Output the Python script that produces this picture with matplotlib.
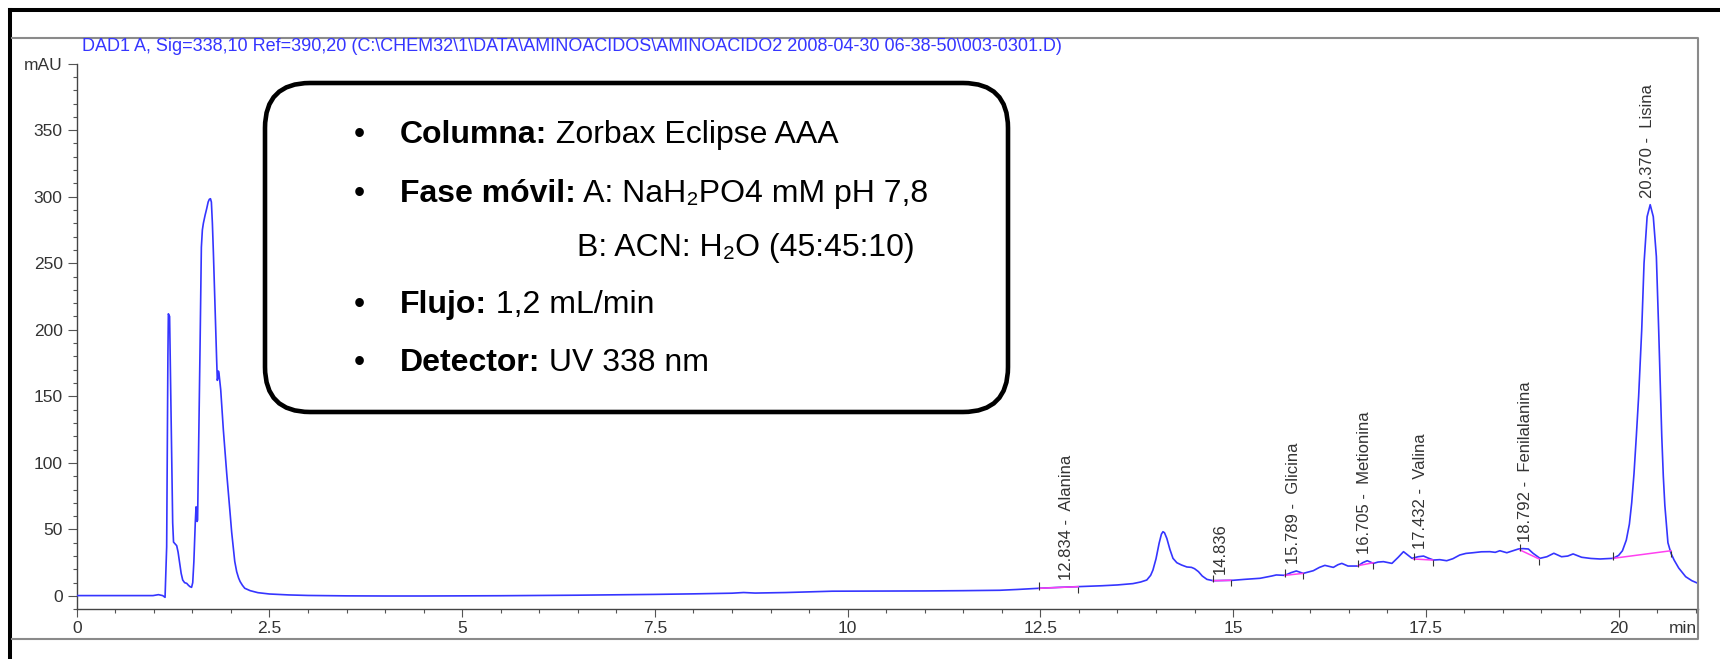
import matplotlib
matplotlib.use("Agg")
import matplotlib.pyplot as plt
from matplotlib.patches import FancyBboxPatch
from matplotlib.ticker import MultipleLocator

plt.rcParams["font.family"] = ["Liberation Sans", "DejaVu Sans"]

tiempo = [
    0.00, 0.50, 0.99, 1.06, 1.115, 1.146, 1.167, 1.183, 1.189, 1.205,
    1.22, 1.232, 1.245, 1.256, 1.297, 1.315, 1.332, 1.355, 1.375, 1.40,
    1.427, 1.45, 1.47, 1.49, 1.505, 1.52, 1.538, 1.548, 1.556, 1.562,
    1.568, 1.582, 1.60, 1.617, 1.63, 1.643, 1.665, 1.686, 1.705, 1.72,
    1.735, 1.747, 1.76, 1.773, 1.79, 1.803, 1.815, 1.824, 1.832, 1.838,
    1.846, 1.868, 1.885, 1.902, 1.925, 1.946, 1.97, 1.99, 2.01, 2.03,
    2.05, 2.075, 2.10, 2.12, 2.15, 2.18, 2.25, 2.35, 2.5, 2.75,
    3.0, 3.5, 4.0, 4.5, 5.0, 5.5, 6.0, 6.5, 7.0, 7.5,
    8.0, 8.5, 8.65, 8.8, 9.2, 9.6, 9.8, 10.5, 11.0, 11.5,
    11.975, 12.2, 12.485, 12.75, 12.99, 13.3, 13.5, 13.70, 13.80, 13.88,
    13.93, 13.96, 14.00, 14.04, 14.07, 14.09, 14.11, 14.14, 14.18, 14.22,
    14.27, 14.33, 14.40, 14.46, 14.50, 14.55, 14.60, 14.66, 14.74, 14.85,
    15.00, 15.15, 15.35, 15.50, 15.56, 15.67, 15.75, 15.82, 15.91, 16.04,
    16.12, 16.19, 16.30, 16.36, 16.41, 16.49, 16.62, 16.68, 16.74, 16.82,
    16.88, 16.95, 17.06, 17.14, 17.21, 17.26, 17.32, 17.40, 17.47, 17.53,
    17.60, 17.68, 17.77, 17.85, 17.94, 18.02, 18.11, 18.22, 18.33, 18.40,
    18.46, 18.55, 18.62, 18.70, 18.76, 18.83, 18.89, 18.98, 19.07, 19.16,
    19.26, 19.34, 19.41, 19.52, 19.64, 19.76, 19.93, 20.00, 20.05, 20.10,
    20.14, 20.17, 20.20, 20.23, 20.26, 20.30, 20.33, 20.37, 20.41, 20.45,
    20.49, 20.52, 20.54, 20.56, 20.58, 20.60, 20.64, 20.68, 20.72, 20.78,
    20.87, 20.95, 21.03,
]
senal = [
    0.3, 0.3, 0.3, 1.0, 0.3, -1.0, 37, 180, 212, 210,
    150, 100, 55, 40.5, 37.8, 33, 26, 17, 12, 10,
    9.5, 8, 7, 6.5, 10, 26, 55, 67, 66, 56,
    57, 112, 187, 262, 275, 280, 286, 291, 296, 298,
    298.5, 296, 280, 258, 225, 200, 178, 162, 164, 169,
    167, 155, 140, 125, 108, 92, 76, 62, 48, 37,
    26, 18.3, 13.5, 10.8, 8, 5.8, 4, 2.5, 1.5, 0.8,
    0.4, 0.1, 0.0, 0.0, 0.1, 0.2, 0.4, 0.6, 0.9, 1.2,
    1.6, 2.1, 2.6, 2.2, 2.6, 3.3, 3.6, 3.7, 3.8, 4.0,
    4.3, 4.9, 5.8, 6.5, 7.0, 7.7, 8.3, 9.3, 10.5, 12.0,
    15.5, 19.5, 28, 39.6, 46.5, 48.3, 47.5, 43.3, 35, 28.3,
    25, 23.3, 21.8, 21.5, 20.5, 18.3, 15, 12.5, 11.5, 11.6,
    11.8, 12.5, 13.3, 15.0, 15.8, 15.5, 17.5, 18.8, 17.0, 19.0,
    21.5, 23.0, 21.5, 23.5, 24.5, 22.5, 22.5, 25, 26.5, 24.5,
    25.5, 25.8, 24.5, 29, 33.3, 31, 28.3, 29.5, 30.0, 28.5,
    27.0, 27.3, 26.5, 28, 30.8, 32, 32.5, 33.2, 33.3, 32.8,
    34.0, 32.5, 33.8, 35.3, 35.6, 35.3, 32.1, 28.3, 29.5, 32.1,
    29.5, 30.0, 31.6, 29.1, 28.2, 27.8, 28.3, 30.5, 34, 42,
    54, 70, 92, 120, 150, 200, 250, 285, 294, 285,
    255, 200, 160, 120, 90, 68, 40, 32, 27, 21,
    14.5, 11.5, 9.5,
]

# --- picos integrados ---
rt_picos = [12.834, 14.836, 15.789, 16.705, 17.432, 18.792, 20.370]
nombres = ["Alanina", "", "Glicina", "Metionina", "Valina", "Fenilalanina", "Lisina"]
apice = [6.5, 11.6, 18.8, 26.5, 30.0, 35.5, 294.0]

# líneas base de integración (inicio / fin)
base_ini_t = [12.485, 14.74, 15.67, 16.62, 17.34, 18.72, 19.93]
base_ini_v = [5.8, 11.5, 15.5, 22.8, 27.8, 34.6, 28.3]
base_fin_t = [12.99, 14.97, 15.91, 16.82, 17.59, 18.97, 20.68]
base_fin_v = [7.0, 11.8, 17.0, 25.0, 27.0, 27.8, 34.0]

x_ticks = [0, 2.5, 5, 7.5, 10, 12.5, 15, 17.5, 20]
x_etiquetas = ["0", "2.5", "5", "7.5", "10", "12.5", "15", "17.5", "20"]
y_ticks = [0, 50, 100, 150, 200, 250, 300, 350, 400]
y_etiquetas = ["0", "50", "100", "150", "200", "250", "300", "350", "mAU"]

titulo = r"DAD1 A, Sig=338,10 Ref=390,20 (C:\CHEM32\1\DATA\AMINOACIDOS\AMINOACIDO2 2008-04-30 06-38-50\003-0301.D)"

info_negrita = ["Columna:", "Fase móvil:", "", "Flujo:", "Detector:"]
info_texto = ["Zorbax Eclipse AAA", "A: NaH₂PO4 mM pH 7,8", "B: ACN: H₂O (45:45:10)",
              "1,2 mL/min", "UV 338 nm"]

AZUL = "#3535ff"
ROSA = "#ff40f0"
GRIS = "#333333"

W, H = 1720, 659
fig = plt.figure(figsize=(W / 100, H / 100), dpi=100)

# --- cromatograma ---
x0, x1, y_top, y_bot = 76.7, 1698, 63.6, 609.3
ax = fig.add_axes([x0 / W, (H - y_bot) / H, (x1 - x0) / W, (y_bot - y_top) / H])
ax.set_xlim(0, 21.03)
ax.set_ylim(-10, 400)
ax.patch.set_alpha(0)

ax.plot(tiempo, senal, color=AZUL, linewidth=1.2, zorder=3)

for t0, v0, t1, v1 in zip(base_ini_t, base_ini_v, base_fin_t, base_fin_v):
    ax.plot([t0, t1], [v0, v1], color=ROSA, linewidth=1.1, zorder=4)
    ax.vlines(t0, v0 - 1, v0 + 4.5, color=GRIS, linewidth=0.8, zorder=5)
    ax.vlines(t1, v1 - 4.5, v1, color=GRIS, linewidth=0.8, zorder=5)

for rt, nombre, h in zip(rt_picos, nombres, apice):
    etiqueta = f"{rt:.3f}" + (f" -  {nombre}" if nombre else "")
    ax.annotate(etiqueta, xy=(rt, h), xytext=(0, 5), textcoords="offset points",
                rotation=90, ha="center", va="bottom", fontsize=12, color=GRIS)

for lado in ["top", "right"]:
    ax.spines[lado].set_visible(False)
for lado in ["left", "bottom"]:
    ax.spines[lado].set_color("#444444")
    ax.spines[lado].set_linewidth(1.0)

ax.set_xticks(x_ticks, x_etiquetas)
ax.set_yticks(y_ticks, y_etiquetas)
ax.xaxis.set_minor_locator(MultipleLocator(0.5))
ax.yaxis.set_minor_locator(MultipleLocator(10))
ax.tick_params(axis="x", which="major", length=5.5, width=0.8, color="#555555",
               labelsize=12.5, labelcolor=GRIS, pad=3)
ax.tick_params(axis="y", which="major", length=6.7, width=0.8, color="#555555",
               labelsize=12.5, labelcolor=GRIS, pad=3.4)
ax.tick_params(which="minor", length=3, width=0.8, color="#555555")

ax.annotate("min", xy=(20.83, 0), xycoords=ax.get_xaxis_transform(),
            xytext=(0, -8.5), textcoords="offset points",
            ha="center", va="top", fontsize=12.5, color=GRIS)

# --- marco, título y recuadro de condiciones (coordenadas en píxeles) ---
ov = fig.add_axes([0, 0, 1, 1], zorder=5)
ov.set_xlim(0, W)
ov.set_ylim(H, 0)
ov.axis("off")
ov.patch.set_alpha(0)

ov.plot([9.5, 9.5], [9.5, H], color="black", linewidth=2.9)
ov.plot([9.5, W], [9.5, 9.5], color="black", linewidth=2.9)
ov.plot([12, x1, x1, 12], [38, 38, 639, 639], color="#8a8a8a", linewidth=1.5)

ov.text(82, 51, titulo, color=AZUL, fontsize=13, ha="left", va="baseline")

caja = FancyBboxPatch((265, 83), 743, 329, boxstyle="round,pad=0,rounding_size=45",
                      facecolor="white", edgecolor="black", linewidth=3.3)
ov.add_patch(caja)

bases = [143, 202, 256, 313, 371]
for negrita, texto, yb in zip(info_negrita, info_texto, bases):
    if negrita:
        ov.text(359, yb, "•", fontsize=23, ha="center", va="baseline")
        t = ov.text(400, yb, negrita, fontsize=23, fontweight="bold",
                    ha="left", va="baseline")
        ov.annotate(" " + texto, xy=(1, 0), xycoords=t, fontsize=23,
                    ha="left", va="bottom")
    else:
        ov.text(577, yb, texto, fontsize=23, ha="left", va="baseline")

fig.savefig("out.png", dpi=100)
